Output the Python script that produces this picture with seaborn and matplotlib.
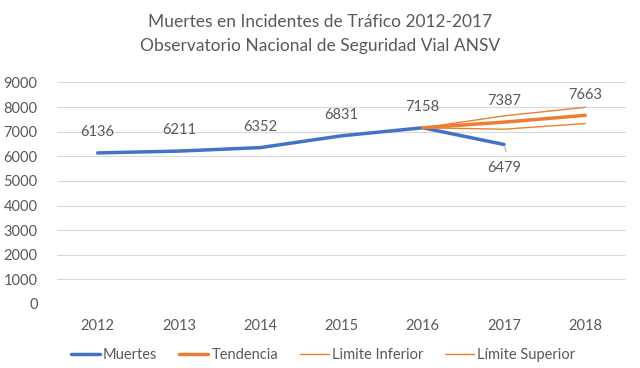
import matplotlib
matplotlib.use("Agg")
import matplotlib.pyplot as plt
import seaborn as sns
import pandas as pd

# data
years = [2012, 2013, 2014, 2015, 2016, 2017, 2018]
muertes = [6136, 6211, 6352, 6831, 7158, 6479]
tend_years = [2016, 2017, 2018]
tendencia = [7158, 7387, 7663]
lim_inf = [7158, 7100, 7330]
lim_sup = [7158, 7640, 7990]

BLUE = "#4472C4"
ORANGE = "#ED7D31"
GREY = "#595959"

sns.set_theme(style="white")
plt.rcParams['font.family'] = ['Lato', 'DejaVu Sans']

df = pd.concat([
    pd.DataFrame({'Año': years[:len(muertes)], 'Valor': muertes, 'Serie': 'Muertes'}),
    pd.DataFrame({'Año': tend_years, 'Valor': tendencia, 'Serie': 'Tendencia'}),
    pd.DataFrame({'Año': tend_years, 'Valor': lim_inf, 'Serie': 'Limite Inferior'}),
    pd.DataFrame({'Año': tend_years, 'Valor': lim_sup, 'Serie': 'Límite Superior'}),
])

fig = plt.figure(figsize=(6.4, 3.68), dpi=100)
ax = fig.add_axes([0.089, 0.174, 0.889, 0.602])

palette = {'Muertes': BLUE, 'Tendencia': ORANGE,
           'Limite Inferior': ORANGE, 'Límite Superior': ORANGE}
sizes = {'Muertes': 2.5, 'Tendencia': 2.5,
         'Limite Inferior': 1.0, 'Límite Superior': 1.0}
sns.lineplot(data=df, x='Año', y='Valor', hue='Serie', size='Serie',
             palette=palette, sizes=sizes, ax=ax, legend=True)

ax.set_xlim(2011.5, 2018.5)
ax.set_ylim(0, 9000)
ax.set_yticks(range(0, 9001, 1000))
ax.set_xticks(years)
ax.set_xlabel('')
ax.set_ylabel('')
ax.grid(axis='y', color='#D9D9D9', linewidth=0.8)
ax.set_axisbelow(True)
for s in ax.spines.values():
    s.set_visible(False)
ax.tick_params(axis='both', length=0, labelsize=10.5, labelcolor=GREY)
ax.tick_params(axis='x', pad=11)
ax.tick_params(axis='y', pad=14)

# data labels
fs = 10.5
for x, v in zip(years, muertes):
    if x == 2017:
        ax.annotate(f"{v}", (x, v), xytext=(0, -17), textcoords='offset points',
                    ha='center', va='center', fontsize=fs, color=GREY)
        ax.annotate("", (x, v), xytext=(2, -7), textcoords='offset points',
                    arrowprops=dict(arrowstyle='-', color='#A6A6A6', lw=0.7))
    else:
        ax.annotate(f"{v}", (x, v), xytext=(0, 15), textcoords='offset points',
                    ha='center', va='center', fontsize=fs, color=GREY)
for x, v in zip(tend_years[1:], tendencia[1:]):
    ax.annotate(f"{v}", (x, v), xytext=(0, 15), textcoords='offset points',
                ha='center', va='center', fontsize=fs, color=GREY)

fig.text(0.5, 0.94, "Muertes en Incidentes de Tráfico 2012-2017",
         ha='center', va='center', fontsize=12.5, color=GREY)
fig.text(0.5, 0.875, "Observatorio Nacional de Seguridad Vial ANSV",
         ha='center', va='center', fontsize=12.5, color=GREY)

handles, labels = ax.get_legend_handles_labels()
ax.legend(handles, labels, loc='center', bbox_to_anchor=(0.505, 0.035),
          bbox_transform=fig.transFigure, ncol=4, frameon=False,
          fontsize=10.5, labelcolor=GREY, handlelength=2.0, handletextpad=0.2,
          columnspacing=1.5)

fig.savefig("out.png", dpi=100)
